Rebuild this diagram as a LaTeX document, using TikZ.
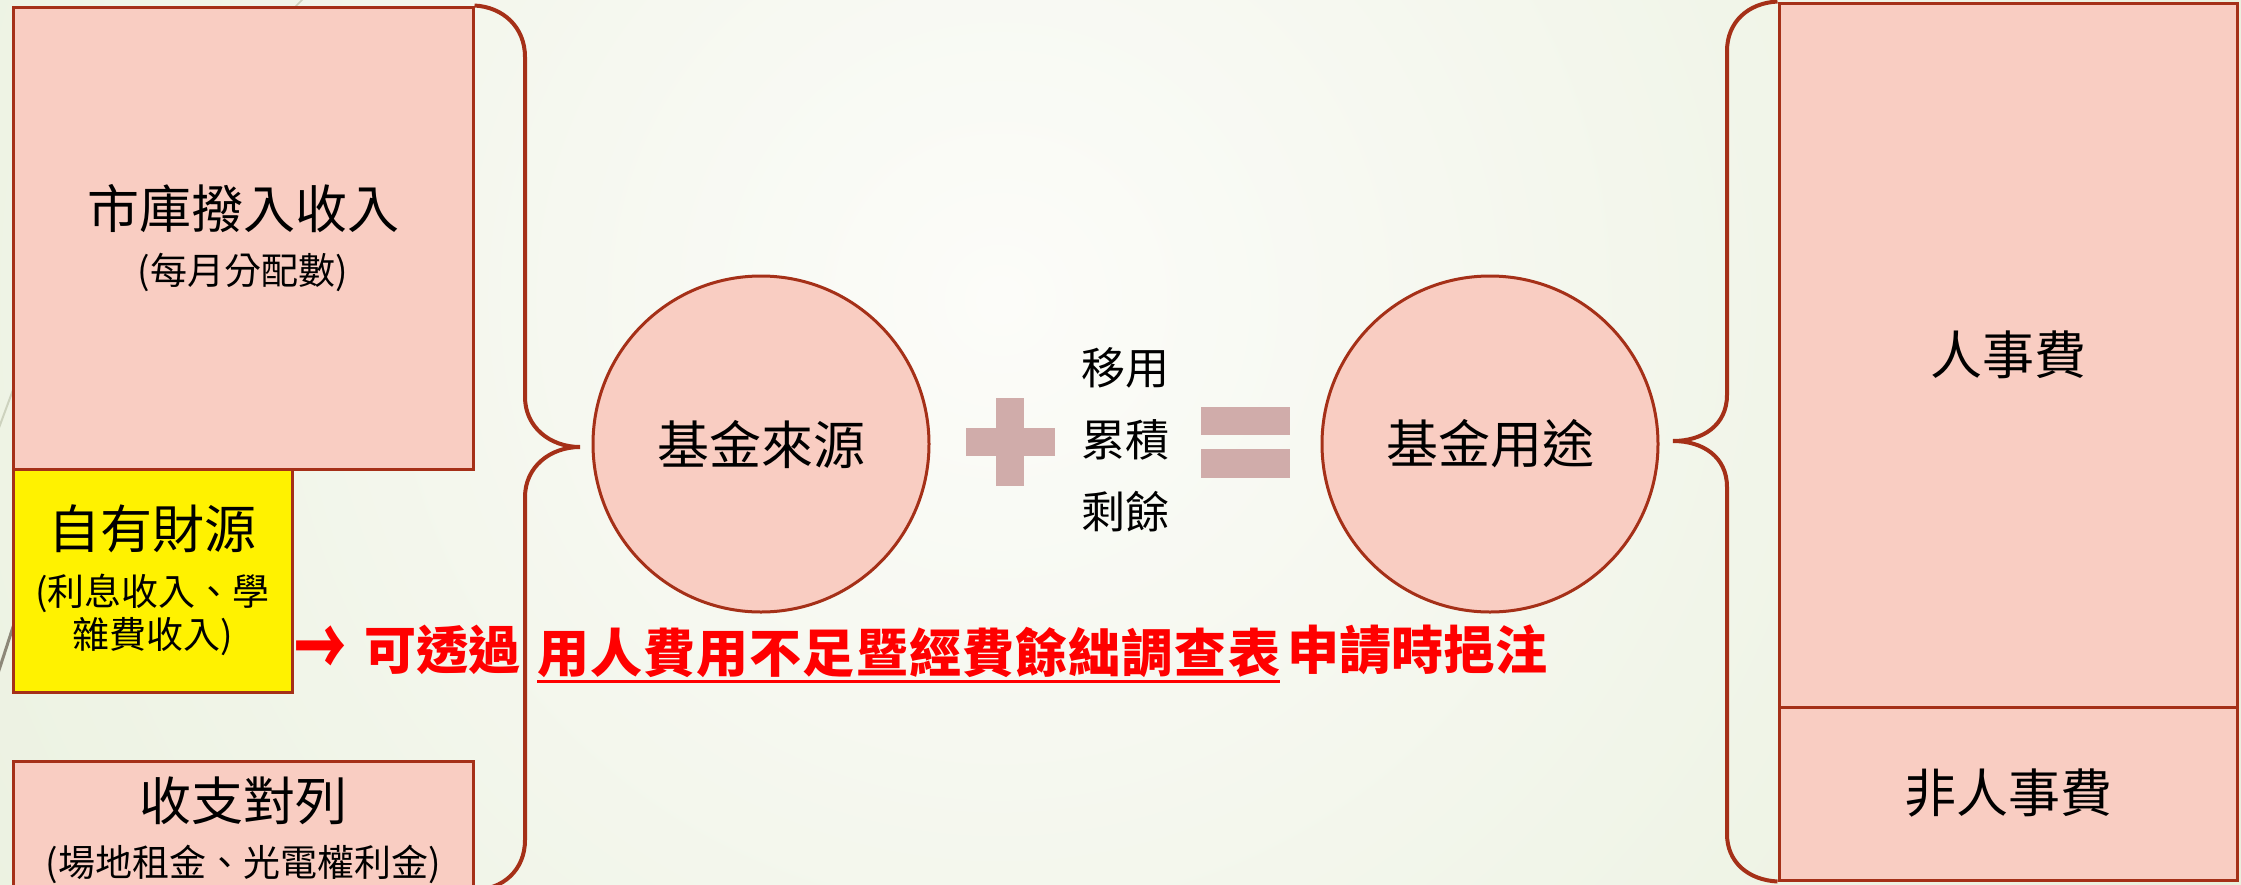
\documentclass[tikz,border=0pt]{standalone}
\usepackage{fontspec}
\usepackage{graphicx}
\setmainfont{Noto Sans CJK TC}
\definecolor{bord}{RGB}{165,48,24}
\definecolor{pinkfill}{RGB}{249,205,194}
\definecolor{opcol}{RGB}{208,172,170}
\definecolor{bgin}{RGB}{252,252,249}
\definecolor{bgout}{RGB}{224,234,208}
\definecolor{redtxt}{RGB}{255,0,0}
\definecolor{decoa}{RGB}{205,210,190}
\definecolor{decob}{RGB}{140,135,120}
\begin{document}
\begin{tikzpicture}[x=1pt,y=-1pt,
  box/.style={draw=bord, line width=3pt, fill=pinkfill, rectangle, inner sep=0pt, align=center},
  ybox/.style={box, fill=yellow},
  circ/.style={draw=bord, line width=3pt, fill=pinkfill, circle, inner sep=0pt, minimum size=336pt, font=\fontsize{52}{60}\selectfont},
  brace/.style={draw=bord, line width=4pt},
  twoline/.style={font=\fontsize{37}{56}\selectfont},
  bigtxt/.style={font=\fontsize{52}{60}\selectfont},
  redtext/.style={text=redtxt, font=\fontsize{52}{60}\selectfont\bfseries, inner sep=0pt, anchor=west},
  opbar/.style={fill=opcol}
]
\useasboundingbox (0,0) rectangle (2241,884);
\begin{scope}
  \clip (0,0) rectangle (2241,884);
  \shade[inner color=bgin, outer color=bgout] (1000,300) circle (2000);
  \draw[decoa, line width=2pt] (-10,452) -- (60,263);
  \draw[decob, line width=3pt] (-10,698) -- (60,482);
  \draw[decoa, line width=1.5pt] (320,-18) -- (280,22);
\end{scope}

% left boxes
\node[box, twoline, minimum width=460pt, minimum height=462pt] (cityfund) at (243,238)
  {{\fontsize{52}{56}\selectfont 市庫撥入收入}\\(每月分配數)};
\node[ybox, font=\fontsize{37}{43}\selectfont, minimum width=279pt, minimum height=223pt] (ownfund) at (152.5,580.5)
  {{\fontsize{52}{56}\selectfont 自有財源}\\[14pt](利息收入、學\\雜費收入)};
\node[box, twoline, minimum width=460pt, minimum height=138pt] (matched) at (243,830)
  {{\fontsize{52}{56}\selectfont 收支對列}\\(場地租金、光電權利金)};

% right boxes
\node[box, bigtxt, minimum width=458pt, minimum height=704pt] (personnel) at (2008,355) {人事費};
\node[box, bigtxt, minimum width=458pt, minimum height=173pt] (nonpersonnel) at (2008,793.5) {非人事費};

% circles
\node[circ] (source) at (761,444) {基金來源};
\node[circ] (usage) at (1490,444) {基金用途};

% plus and equals
\fill[opbar] (965.5,428) rectangle (1054.5,456);
\fill[opbar] (996,398) rectangle (1024,486);
\fill[opbar] (1201,407) rectangle (1290,435);
\fill[opbar] (1201,449) rectangle (1290,478);

\node[font=\fontsize{44}{72}\selectfont, align=center, inner sep=0pt] (surplus) at (1125,440) {移用\\累積\\剩餘};

% braces
\draw[brace] (cityfund.north east) .. controls (503,7) and (525,27) .. (525,57) -- (525,397)
  .. controls (525,427) and (550,447) .. (580,447)
  .. controls (550,447) and (525,467) .. (525,497) -- (525,840)
  .. controls (525,870) and (503,890) .. (473,890);
\draw[brace] (personnel.north west) .. controls (1748,3) and (1727,22) .. (1727,51) -- (1727,395)
  .. controls (1727,425) and (1703,441) .. (1673,441)
  .. controls (1703,441) and (1727,457) .. (1727,487) -- (1727,834)
  .. controls (1727,862) and (1748,880) .. (nonpersonnel.south west);

% red note
\node[redtext] (rarrow) at (294,652) {\scalebox{1.0}[1.6]{→}};
\node[redtext] (rvia) at (364,650) {可透過};
\node[redtext, font={\fontsize{52}{60}\selectfont\bfseries\addfontfeature{LetterSpace=2.2}}] (rform) at (537,652) {用人費用不足暨經費餘絀調查表};
\node[redtext] (rapply) at (1287,650) {申請時挹注};
\draw[redtxt, line width=3pt] ([yshift=-4pt]rform.south west) -- ([yshift=-4pt]rform.south east);
\end{tikzpicture}
\end{document}
